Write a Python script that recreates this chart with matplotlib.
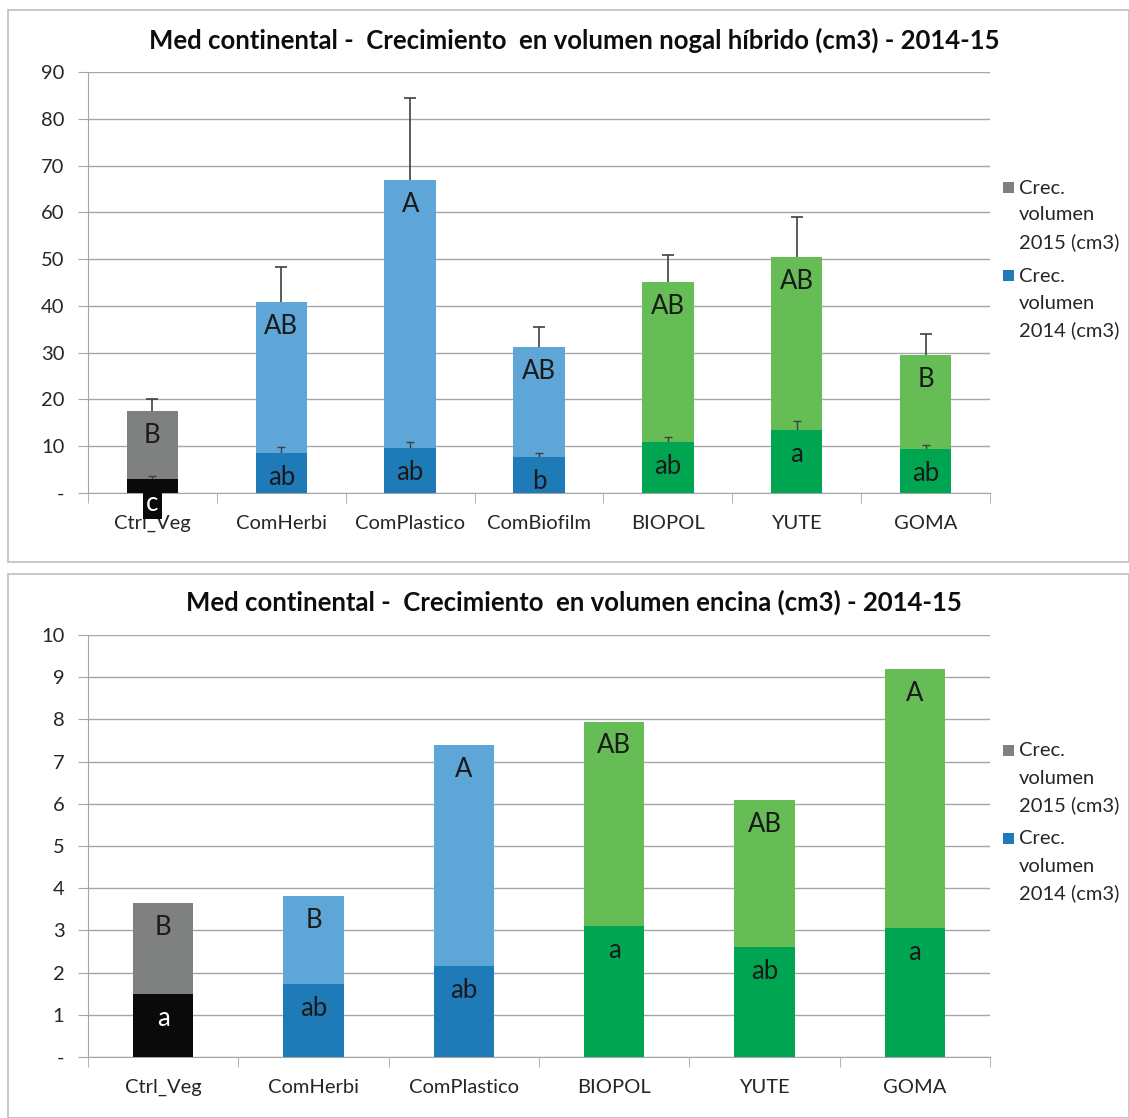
import matplotlib
matplotlib.use("Agg")
import matplotlib.pyplot as plt
from matplotlib.patches import Rectangle

plt.rcParams["font.family"] = ["Lato", "DejaVu Sans"]

# nogal hibrido (top panel)
cats_nogal = ["Ctrl_Veg", "ComHerbi", "ComPlastico", "ComBiofilm", "BIOPOL", "YUTE", "GOMA"]
vol2015_nogal = [17.5, 40.8, 66.9, 31.2, 45.1, 50.4, 29.5]
vol2014_nogal = [3.0, 8.5, 9.6, 7.7, 10.9, 13.5, 9.4]
err2015_nogal = [2.6, 7.6, 17.6, 4.3, 5.8, 8.5, 4.5]
err2014_nogal = [0.6, 1.3, 1.3, 0.8, 1.1, 1.9, 0.9]
lab2015_nogal = ["B", "AB", "A", "AB", "AB", "AB", "B"]
lab2014_nogal = ["c", "ab", "ab", "b", "ab", "a", "ab"]

# encina (bottom panel)
cats_encina = ["Ctrl_Veg", "ComHerbi", "ComPlastico", "BIOPOL", "YUTE", "GOMA"]
vol2015_encina = [3.65, 3.82, 7.39, 7.95, 6.09, 9.19]
vol2014_encina = [1.49, 1.73, 2.16, 3.1, 2.6, 3.06]
lab2015_encina = ["B", "B", "A", "AB", "AB", "A"]
lab2014_encina = ["a", "ab", "ab", "a", "ab", "a"]

light = {"Ctrl_Veg": "#7f8080", "ComHerbi": "#5fa6d8", "ComPlastico": "#5fa6d8",
         "ComBiofilm": "#5fa6d8", "BIOPOL": "#66bd55", "YUTE": "#66bd55", "GOMA": "#66bd55"}
dark = {"Ctrl_Veg": "#0a0a0a", "ComHerbi": "#1f7bb8", "ComPlastico": "#1f7bb8",
        "ComBiofilm": "#1f7bb8", "BIOPOL": "#00a551", "YUTE": "#00a551", "GOMA": "#00a551"}

W, H = 1129, 1118
fig = plt.figure(figsize=(W / 100, H / 100), dpi=100)

# panel frames
for y0, y1 in [(10, 562), (574, 1118)]:
    fig.patches.append(Rectangle((8 / W, 1 - y1 / H), (W - 8) / W, (y1 - y0) / H,
                                 transform=fig.transFigure, fill=False,
                                 edgecolor="#bfbfbf", linewidth=1.2))


def up_errors(ax, x, vals, errs, lw, cap, z):
    # upper-only error bars, no cap at the bar end
    tops = [v + e for v, e in zip(vals, errs)]
    ax.vlines(x, vals, tops, color="#404040", linewidth=lw, zorder=z)
    ax.plot(x, tops, ls="none", marker="_", markersize=cap, markeredgewidth=lw,
            color="#404040", zorder=z)


def draw_panel(ax, cats, v15, v14, lab15, lab14, ymax, step, e15=None, e14=None):
    x = list(range(len(cats)))
    ax.bar(x, v15, width=0.4, color=[light[c] for c in cats], zorder=2)
    ax.bar(x, v14, width=0.4, color=[dark[c] for c in cats], zorder=3)
    if e15 is not None:
        up_errors(ax, x, v15, e15, 1.2, 9, 1.5)
        up_errors(ax, x, v14, e14, 1.0, 6, 2.5)
    for i, c in enumerate(cats):
        ax.annotate(lab15[i], (i, v15[i]), xytext=(0, -17.5), textcoords="offset points",
                    ha="center", va="center", fontsize=18.5, color="#1a1a1a", zorder=5)
        if c == "Ctrl_Veg":
            box = None
            if v14[i] < 5 and ymax > 20:
                box = dict(boxstyle="square,pad=0.12", facecolor="#0a0a0a", edgecolor="none")
            ax.annotate(lab14[i], (i, v14[i]), xytext=(0, -17.5), textcoords="offset points",
                        ha="center", va="center", fontsize=18.5, color="white",
                        bbox=box, zorder=5, annotation_clip=False)
        else:
            ax.annotate(lab14[i], (i, v14[i]), xytext=(0, -17.5), textcoords="offset points",
                        ha="center", va="center", fontsize=18.5, color="#1a1a1a", zorder=5)

    ax.set_xlim(-0.5, len(cats) - 0.5)
    ax.set_ylim(0, ymax)
    ticks = list(range(0, ymax + 1, step))
    ax.set_yticks(ticks)
    ax.set_yticklabels(["-"] + [str(t) for t in ticks[1:]])
    ax.yaxis.grid(True, color="#a6a6a6", linewidth=1.0, zorder=0)
    ax.set_axisbelow(True)
    ax.set_xticks(x)
    ax.set_xticklabels(cats)
    ax.set_xticks([k - 0.5 for k in range(len(cats) + 1)], minor=True)
    ax.tick_params(axis="x", which="major", length=0, pad=16, labelsize=14.5, labelcolor="#262626")
    ax.tick_params(axis="x", which="minor", length=7, color="#a6a6a6", direction="out")
    ax.tick_params(axis="y", length=7, color="#a6a6a6", pad=10, labelsize=14.5, labelcolor="#262626")
    for s in ["top", "right"]:
        ax.spines[s].set_visible(False)
    for s in ["left", "bottom"]:
        ax.spines[s].set_color("#a6a6a6")


ax1 = fig.add_axes([88 / W, 1 - 493 / H, 902 / W, 421 / H])
draw_panel(ax1, cats_nogal, vol2015_nogal, vol2014_nogal, lab2015_nogal, lab2014_nogal,
           90, 10, err2015_nogal, err2014_nogal)

ax2 = fig.add_axes([88 / W, 1 - 1057 / H, 902 / W, 422 / H])
draw_panel(ax2, cats_encina, vol2015_encina, vol2014_encina, lab2015_encina, lab2014_encina,
           10, 1)

titles = [("Med continental -  Crecimiento  en volumen nogal híbrido (cm3) - 2014-15", 40),
          ("Med continental -  Crecimiento  en volumen encina (cm3) - 2014-15", 602)]
for txt, ty in titles:
    fig.text(574 / W, 1 - ty / H, txt, fontsize=18.5, fontweight="bold", color="#0d0d0d",
             ha="center", va="center")

# legends
for top in [188, 751]:
    for dy, col, yr in [(0, "#7f8080", "2015"), (88, "#1f7bb8", "2014")]:
        y = top + dy
        fig.patches.append(Rectangle((1003 / W, 1 - (y + 5) / H), 11 / W, 11 / H,
                                     transform=fig.transFigure, facecolor=col, edgecolor="none"))
        for k, line in enumerate(["Crec.", "volumen", yr + " (cm3)"]):
            fig.text(1019 / W, 1 - (y + 27 * k) / H, line, fontsize=14.5, color="#262626",
                     ha="left", va="center")

fig.savefig("out.png", dpi=100)
